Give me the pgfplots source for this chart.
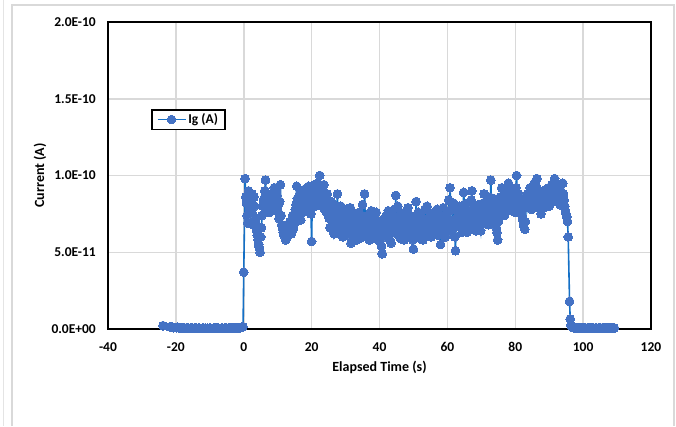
\documentclass[border=0pt]{standalone}
\usepackage{pgfplots}
\pgfplotsset{compat=1.18}
\usepackage{fontspec}
\setmainfont{Carlito}
\definecolor{mk}{RGB}{68,114,196}
\definecolor{ln}{RGB}{20,112,198}
\definecolor{grd}{RGB}{217,217,217}
\begin{document}
\begin{tikzpicture}
\useasboundingbox (0pt,0pt) rectangle (676pt,426pt);
\fill[white] (0pt,0pt) rectangle (676pt,426pt);
\draw[grd!70, line width=1pt] (3pt,0pt) -- (3pt,426pt);
\draw[grd, line width=1.5pt] (12pt,0pt) -- (12pt,421pt) -- (674pt,421pt) -- (674pt,0pt);
\begin{axis}[
  at={(108pt,97pt)}, anchor=south west,
  scale only axis, width=543pt, height=307pt,
  xmin=-40, xmax=120, ymin=0, ymax=200,
  xtick={-40,-20,0,20,40,60,80,100,120},
  xticklabels={-40,-20,0,20,40,60,80,100,120},
  ytick={0,50,100,150,200},
  yticklabels={0.0E+00,5.0E-11,1.0E-10,1.5E-10,2.0E-10},
  grid=major, grid style={grd, line width=1.5pt},
  major tick length=0pt,
  axis line style={black, line width=1.5pt},
  ticklabel style={font=\bfseries\fontsize{13.5}{15}\selectfont},
  xticklabel style={anchor=center, yshift=-18pt},
  yticklabel style={anchor=east, inner sep=0pt, xshift=-12pt},
  xlabel={Elapsed Time (s)}, ylabel={Current (A)},
  label style={font=\bfseries\fontsize{14}{16}\selectfont},
  x label style={at={(axis description cs:0.5,-0.1238)}, anchor=center},
  y label style={at={(axis description cs:-0.1252,0.5)}, anchor=center},
  legend style={at={(axis description cs:0.0792,0.648)}, anchor=south west,
    draw=black, line width=1.5pt, fill=white,
    font=\bfseries\fontsize{13.5}{15}\selectfont,
    inner xsep=5pt, inner ysep=2pt},
  legend image code/.code={\draw[mark repeat=2,mark phase=2,#1] plot coordinates {(0pt,0pt) (14pt,0pt) (28pt,0pt)};},
]
\addplot[color=ln, line width=1.6pt, mark=*, mark size=4.4pt,
  mark options={fill=mk, draw=mk, line width=0pt}] table {
x y
-23.8 2.2
-21.8 1.4
-21.4 1.1
-21.0 1.3
-20.6 0.9
-20.2 1.0
-19.8 0.8
-19.4 1.1
-19.0 0.7
-18.6 0.9
-18.2 0.6
-17.8 0.8
-17.4 0.7
-17.0 0.5
-16.6 0.8
-16.2 0.6
-15.8 0.4
-15.4 0.7
-15.0 0.5
-14.6 0.6
-14.2 0.9
-13.8 0.5
-13.4 0.4
-13.0 0.6
-12.6 0.3
-12.2 0.5
-11.8 0.4
-11.4 0.6
-11.0 0.3
-10.6 0.5
-10.2 0.4
-9.8 0.6
-9.4 0.3
-9.0 0.5
-8.6 0.4
-8.2 0.7
-7.8 0.4
-7.4 0.5
-7.0 0.3
-6.6 0.6
-6.2 0.4
-5.8 0.5
-5.4 0.7
-5.0 0.4
-4.6 0.6
-4.2 0.5
-3.8 0.8
-3.4 0.6
-3.0 0.5
-2.6 0.9
-2.2 0.7
-1.8 0.6
-1.4 1.0
-1.0 0.8
-0.6 1.2
-0.2 1.5
0.0 37
0.4 98
0.6 86
0.8 82
1.0 74
1.2 69
1.4 90
1.6 87
1.8 78
2.0 85
2.2 83
2.4 88
2.6 75
2.8 68
3.0 86
3.2 80
3.4 70
3.6 72
3.8 64
4.0 61
4.2 58
4.4 55
4.6 53
4.8 50
5.0 60
5.2 66
5.4 74
5.6 80
5.8 83
6.0 85
6.2 90
6.4 97
6.6 86
6.8 82
7.0 79
7.2 87
7.4 84
7.6 76
7.8 81
8.0 84
8.2 77
8.4 88
8.6 85
8.8 79
9.0 92
9.2 86
9.4 82
9.6 90
9.8 87
10.0 80
10.2 76
10.4 72
10.6 83
10.8 94
11.0 74
11.2 68
11.4 66
11.6 63
11.8 61
12.0 66
12.2 63
12.4 58
12.6 59
12.8 60
13.0 67
13.2 64
13.4 62
13.6 70
13.8 66
14.0 62
14.2 71
14.4 74
14.6 65
14.8 68
15.0 73
15.2 78
15.4 81
15.6 93
15.8 85
16.0 75
16.2 79
16.4 84
16.6 88
16.8 71
17.0 82
17.2 88
17.4 76
17.6 80
17.8 90
18.0 91
18.2 84
18.4 77
18.6 89
18.8 86
19.0 80
19.2 93
19.4 87
19.6 82
19.8 75
20.0 57
20.2 85
20.4 89
20.6 91
20.8 94
21.0 80
21.2 84
21.4 88
21.6 92
21.8 95
22.0 87
22.2 82
22.4 100
22.6 93
22.8 90
23.0 86
23.2 80
23.4 89
23.6 94
23.8 78
24.0 85
24.2 81
24.4 76
24.6 88
24.8 82
25.0 74
25.2 72
25.4 66
25.6 79
25.8 83
26.0 68
26.2 71
26.4 75
26.6 62
26.8 64
27.0 77
27.2 80
27.4 69
27.6 88
27.8 74
28.0 70
28.2 63
28.4 66
28.6 80
28.8 76
29.0 68
29.2 60
29.4 65
29.6 72
29.8 75
30.0 67
30.2 61
30.4 78
30.6 72
30.8 63
31.0 66
31.2 70
31.4 79
31.6 56
31.8 64
32.0 74
32.2 69
32.4 65
32.6 60
32.8 71
33.0 75
33.2 58
33.4 66
33.6 68
33.8 72
34.0 76
34.2 59
34.4 62
34.6 68
34.8 70
35.0 81
35.2 66
35.4 63
35.6 88
35.8 70
36.0 73
36.2 67
36.4 61
36.6 74
36.8 69
37.0 58
37.2 64
37.4 71
37.6 77
37.8 65
38.0 59
38.2 69
38.4 67
38.6 62
38.8 72
39.0 76
39.2 63
39.4 66
39.6 70
39.8 61
40.0 57
40.2 70
40.4 66
40.6 54
40.8 49
41.0 65
41.2 68
41.4 72
41.6 62
41.8 60
42.0 74
42.2 68
42.4 65
42.6 77
42.8 59
43.0 63
43.2 71
43.4 56
43.6 67
43.8 70
44.0 63
44.2 66
44.4 78
44.6 73
44.8 87
45.0 64
45.2 69
45.4 80
45.6 61
45.8 67
46.0 72
46.2 59
46.4 66
46.6 71
46.8 75
47.0 68
47.2 58
47.4 76
47.6 70
47.8 62
48.0 64
48.2 70
48.4 79
48.6 65
48.8 68
49.0 74
49.2 60
49.4 67
49.6 73
49.8 58
50.0 52
50.2 71
50.4 66
50.6 63
50.8 83
51.0 68
51.2 70
51.4 76
51.6 62
51.8 66
52.0 75
52.2 59
52.4 65
52.6 72
52.8 58
53.0 64
53.2 71
53.4 78
53.6 67
53.8 62
54.0 80
54.2 69
54.4 63
54.6 66
54.8 72
55.0 74
55.2 60
55.4 65
55.6 69
55.8 61
56.0 76
56.2 71
56.4 64
56.6 67
56.8 70
57.0 78
57.2 61
57.4 65
57.6 74
57.8 70
58.0 55
58.2 62
58.4 68
58.6 73
58.8 79
59.0 68
59.2 66
59.4 60
59.6 72
59.8 75
60.0 63
60.2 69
60.4 84
60.6 77
60.8 92
61.0 71
61.2 70
61.4 65
61.6 78
61.8 82
62.0 66
62.2 60
62.4 51
62.6 72
62.8 68
63.0 67
63.2 74
63.4 77
63.6 80
63.8 70
64.0 72
64.2 66
64.4 63
64.6 75
64.8 89
65.0 81
65.2 76
65.4 71
65.6 69
65.8 63
66.0 82
66.2 77
66.4 73
66.6 70
66.8 66
67.0 84
67.2 90
67.4 74
67.6 78
67.8 67
68.0 70
68.2 76
68.4 64
68.6 69
68.8 75
69.0 72
69.2 81
69.4 78
69.6 67
69.8 64
70.0 72
70.2 74
70.4 79
70.6 82
70.8 88
71.0 70
71.2 74
71.4 77
71.6 84
71.8 73
72.0 68
72.2 86
72.4 80
72.6 75
72.8 97
73.0 82
73.2 77
73.4 70
73.6 85
73.8 79
74.0 71
74.2 74
74.4 66
74.6 63
74.8 58
75.0 70
75.2 76
75.4 81
75.6 86
75.8 78
76.0 92
76.2 85
76.4 80
76.6 88
76.8 74
77.0 79
77.2 89
77.4 84
77.6 83
77.8 90
78.0 95
78.2 82
78.4 78
78.6 91
78.8 87
79.0 77
79.2 82
79.4 86
79.6 90
79.8 83
80.0 76
80.2 92
80.4 100
80.6 81
80.8 86
81.0 88
81.2 79
81.4 83
81.6 84
81.8 77
82.0 74
82.2 71
82.4 68
82.6 79
82.8 65
83.0 70
83.2 80
83.4 84
83.6 88
83.8 80
84.0 83
84.2 87
84.4 92
84.6 82
84.8 78
85.0 90
85.2 86
85.4 81
85.6 95
85.8 89
86.0 84
86.2 93
86.4 98
86.6 85
86.8 90
87.0 79
87.2 82
87.4 88
87.6 75
87.8 81
88.0 86
88.2 90
88.4 79
88.6 83
88.8 84
89.0 87
89.2 91
89.4 80
89.6 85
89.8 92
90.0 80
90.2 84
90.4 88
90.6 90
90.8 94
91.0 86
91.2 83
91.4 93
91.6 98
91.8 88
92.0 90
92.2 94
92.4 85
92.6 87
92.8 92
93.0 84
93.2 81
93.4 90
93.6 87
93.8 82
94.0 95
94.2 88
94.4 84
94.6 80
94.8 77
95.0 75
95.2 73
95.4 70
95.6 60
96.0 18
96.2 6.5
96.4 2.5
96.8 1.2
97.2 0.9
97.6 0.7
98.0 0.8
98.4 0.6
98.8 0.7
99.2 0.5
99.6 0.8
100.0 0.6
100.4 0.5
100.8 0.7
101.2 0.4
101.6 0.6
102.0 0.5
102.4 0.8
102.8 0.6
103.2 0.4
103.6 0.7
104.0 0.5
104.4 0.6
104.8 0.9
105.2 0.5
105.6 0.7
106.0 0.6
106.4 0.8
106.8 0.5
107.2 0.7
107.6 0.9
108.0 0.6
108.4 0.8
108.8 1.0
109.2 0.7
};
\addlegendentry{Ig (A)}
\end{axis}
\end{tikzpicture}
\end{document}
